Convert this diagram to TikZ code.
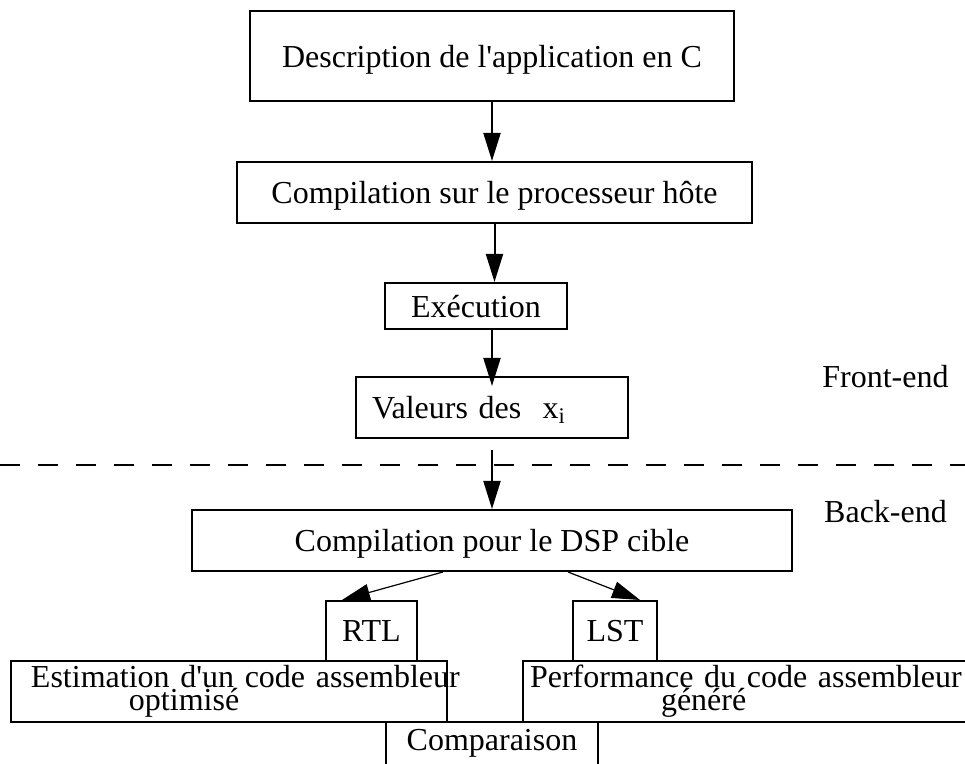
\documentclass[tikz,border=0pt]{standalone}
\usepackage{fontspec}
\setmainfont{Liberation Serif}
\usetikzlibrary{arrows.meta}
\begin{document}
\begin{tikzpicture}[x=0.5pt,y=-0.5pt,
	boite/.style={draw,line width=1pt,inner sep=0pt,font=\fontsize{16}{11.5}\selectfont},
	case/.style={boite,text depth=0pt},
	fleche/.style={line width=1pt,-{Triangle[length=14pt,width=8.5pt]}},
	texte/.style={font=\fontsize{16}{11.5}\selectfont,anchor=base}]
	\useasboundingbox (0,0) rectangle (965,764);
	\node[case,minimum width=242pt,minimum height=45pt] (desc) at (492,56) {Description de l\textquotesingle application en C};
	\node[case,minimum width=257.5pt,minimum height=30.5pt] (hote) at (494.5,192.5) {Compilation sur le processeur hôte};
	\node[case,minimum width=91pt,minimum height=23pt] (exec) at (476,306) {Exécution};
	\node[case,minimum width=136pt,minimum height=30.5pt,text width=120pt,inner xsep=8pt,align=left] (valeurs) at (492,407.5) {Valeurs des~ x\textsubscript{i}};
	\node[case,minimum width=300pt,minimum height=30.5pt] (dsp) at (492,540.5) {Compilation pour le DSP cible};
	\node[case,minimum width=45.5pt,minimum height=30pt] (rtl) at (371.5,631) {RTL};
	\node[case,minimum width=42pt,minimum height=30pt] (lst) at (615,631) {LST};
	\node[boite,minimum width=218pt,minimum height=30.5pt,text width=198pt,inner xsep=10pt,align=left] (estim) at (229,691.5) {\mbox{Estimation d\textquotesingle un code assembleur}\\\hspace*{49pt}optimisé};
	\node[boite,minimum width=238.5pt,minimum height=30.5pt,text width=231.5pt,inner xsep=3.5pt,align=left] (perf) at (761.5,691.5) {\mbox{Performance du code assembleur}\\\hspace*{65.5pt}généré};
	\node[boite,anchor=north,minimum width=106pt,inner ysep=3.5pt,text depth=15pt] (comp) at (492,721) {Comparaison};
	\node[texte] (front) at (885.5,388) {Front-end};
	\node[texte] (back) at (885.5,523) {Back-end};
	\draw[line width=1pt,dash pattern=on 10pt off 9pt] (0,465) -- (965,465);
	\draw[fleche] (desc.south) -- (desc.south |- hote.north);
	\draw[fleche] (hote.south) -- (hote.south |- exec.north);
	\draw[fleche] (exec.south -| valeurs.north) -- ([yshift=-5pt]valeurs.north);
	\draw[fleche] ([yshift=-5.5pt]valeurs.south) -- (dsp.north);
	\draw[fleche,line width=0.6pt] ([xshift=-24.5pt]dsp.south) -- ([xshift=-14.75pt]rtl.north);
	\draw[fleche,line width=0.6pt] ([xshift=38pt]dsp.south) -- ([xshift=12.5pt]lst.north);
\end{tikzpicture}
\end{document}
